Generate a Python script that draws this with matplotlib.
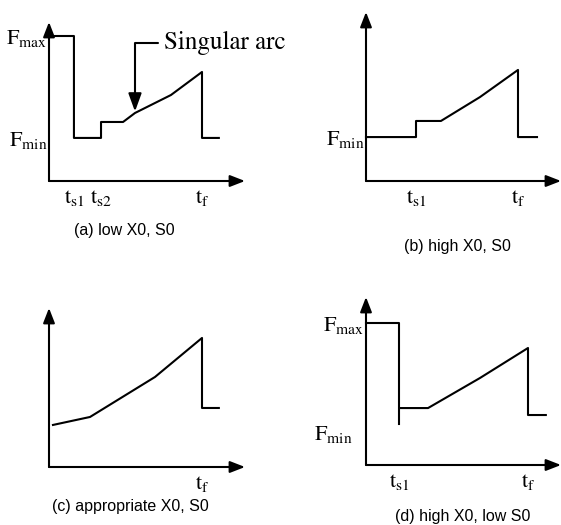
import matplotlib
matplotlib.use("Agg")
import matplotlib.pyplot as plt

plt.rcParams["mathtext.fontset"] = "stix"
plt.rcParams["font.family"] = ["Liberation Sans", "DejaVu Sans"]

W, H = 561, 525

# time axis: t_f = 1, control axis: F_max = 1 (schematic units)
# (a) low X0, S0
a_t = [0.0, 0.163, 0.163, 0.34, 0.34, 0.484, 0.562, 0.797, 1.0, 1.0, 1.11]
a_F = [1.0, 1.0, 0.297, 0.297, 0.407, 0.407, 0.469, 0.593, 0.752, 0.297, 0.297]
a_xticks = [0.163, 0.34, 1.0]
a_xlabels = [r"$\mathrm{t_{s1}}$", r"$\mathrm{t_{s2}}$", r"$\mathrm{t_f}$"]
a_yticks = [0.297, 1.0]
a_ylabels = [r"$\mathrm{F_{min}}$", r"$\mathrm{F_{max}}$"]

# (b) high X0, S0
b_t = [0.0, 0.329, 0.329, 0.493, 0.75, 1.0, 1.0, 1.125]
b_F = [0.303, 0.303, 0.414, 0.414, 0.579, 0.766, 0.303, 0.303]
b_xticks = [0.329, 1.0]
b_xlabels = [r"$\mathrm{t_{s1}}$", r"$\mathrm{t_f}$"]
b_yticks = [0.303]
b_ylabels = [r"$\mathrm{F_{min}}$"]

# (c) appropriate X0, S0
c_t = [0.026, 0.268, 0.693, 1.0, 1.0, 1.11]
c_F = [0.29, 0.345, 0.621, 0.89, 0.407, 0.407]
c_xticks = [1.0]
c_xlabels = [r"$\mathrm{t_f}$"]

# (d) high X0, low S0
d_t = [0.0, 0.204, 0.204]
d_F = [1.0, 1.0, 0.289]
d_t2 = [0.216, 0.383, 0.704, 1.0, 1.0, 1.11]
d_F2 = [0.401, 0.401, 0.613, 0.824, 0.352, 0.352]
d_xticks = [0.204, 1.0]
d_xlabels = [r"$\mathrm{t_{s1}}$", r"$\mathrm{t_f}$"]
d_yticks = [0.232, 1.0]
d_ylabels = [r"$\mathrm{F_{min}}$", r"$\mathrm{F_{max}}$"]

captions = ["(a) low X0, S0", "(b) high X0, S0",
            "(c) appropriate X0, S0", "(d) high X0, low S0"]

AXIS_ARROW = "-|>,head_length=0.9,head_width=0.35"


def make_axes(fig, ox, oy, xe, yt, sx, sy):
    # ox, oy: origin in pixels; xe: x-arrow tip; yt: y-arrow tip; sx, sy: px per unit
    ax = fig.add_axes([ox / W, (H - oy) / H, (xe - ox) / W, (oy - yt) / H])
    ax.set_xlim(0, (xe - ox) / sx)
    ax.set_ylim(0, (oy - yt) / sy)
    for s in ax.spines.values():
        s.set_visible(False)
    ax.patch.set_visible(False)
    arr = dict(arrowstyle=AXIS_ARROW, lw=1.5, color="black",
               shrinkA=0, shrinkB=0, mutation_scale=10)
    ax.annotate("", xy=(0, 1), xytext=(0, 0), xycoords="axes fraction",
                arrowprops=arr)
    ax.annotate("", xy=(1, 0), xytext=(0, 0), xycoords="axes fraction",
                arrowprops=arr)
    ax.tick_params(length=0, labelsize=16, pad=1)
    ax.tick_params(axis="x", pad=4)
    ax.set_xticks([])
    ax.set_yticks([])
    return ax


fig = plt.figure(figsize=(W / 100, H / 100), dpi=100)

lw = 1.5
cap_size = 11.5

# panel (a)
ax = make_axes(fig, 49, 181, 245, 22, 153, 145)
ax.plot(a_t, a_F, color="black", lw=lw, clip_on=False)
ax.set_xticks(a_xticks, a_xlabels)
ax.set_yticks(a_yticks, a_ylabels)
ax.annotate("Singular arc", xy=(a_t[6], a_F[6] + 0.01), xytext=(0.75, 0.95),
            fontsize=18, family="STIXGeneral", va="center", ha="left",
            arrowprops=dict(arrowstyle="-|>,head_length=1.1,head_width=0.4",
                            lw=1.5, color="black", shrinkA=2, shrinkB=0,
                            mutation_scale=10,
                            connectionstyle="angle,angleA=0,angleB=90,rad=0"))
fig.text(124 / W, 1 - 231 / H, captions[0], ha="center", va="center", fontsize=cap_size)

# panel (b)
ax = make_axes(fig, 366, 181, 561, 12, 152, 145)
ax.plot(b_t, b_F, color="black", lw=lw, clip_on=False)
ax.set_xticks(b_xticks, b_xlabels)
ax.set_yticks(b_yticks, b_ylabels)
fig.text(457 / W, 1 - 247 / H, captions[1], ha="center", va="center", fontsize=cap_size)

# panel (c)
ax = make_axes(fig, 49, 467, 245, 308, 153, 145)
ax.plot(c_t, c_F, color="black", lw=lw, clip_on=False)
ax.set_xticks(c_xticks, c_xlabels)
fig.text(130 / W, 1 - 507 / H, captions[2], ha="center", va="center", fontsize=cap_size)

# panel (d)
ax = make_axes(fig, 366, 465, 561, 297, 162, 142)
ax.plot(d_t, d_F, color="black", lw=lw, clip_on=False)
ax.plot(d_t2, d_F2, color="black", lw=lw, clip_on=False)
ax.set_xticks(d_xticks, d_xlabels)
ax.set_yticks(d_yticks, d_ylabels)
ax.get_yticklabels()[0].set_x(-0.06)
fig.text(463 / W, 1 - 517 / H, captions[3], ha="center", va="center", fontsize=cap_size)

fig.savefig("out.png", dpi=100)
